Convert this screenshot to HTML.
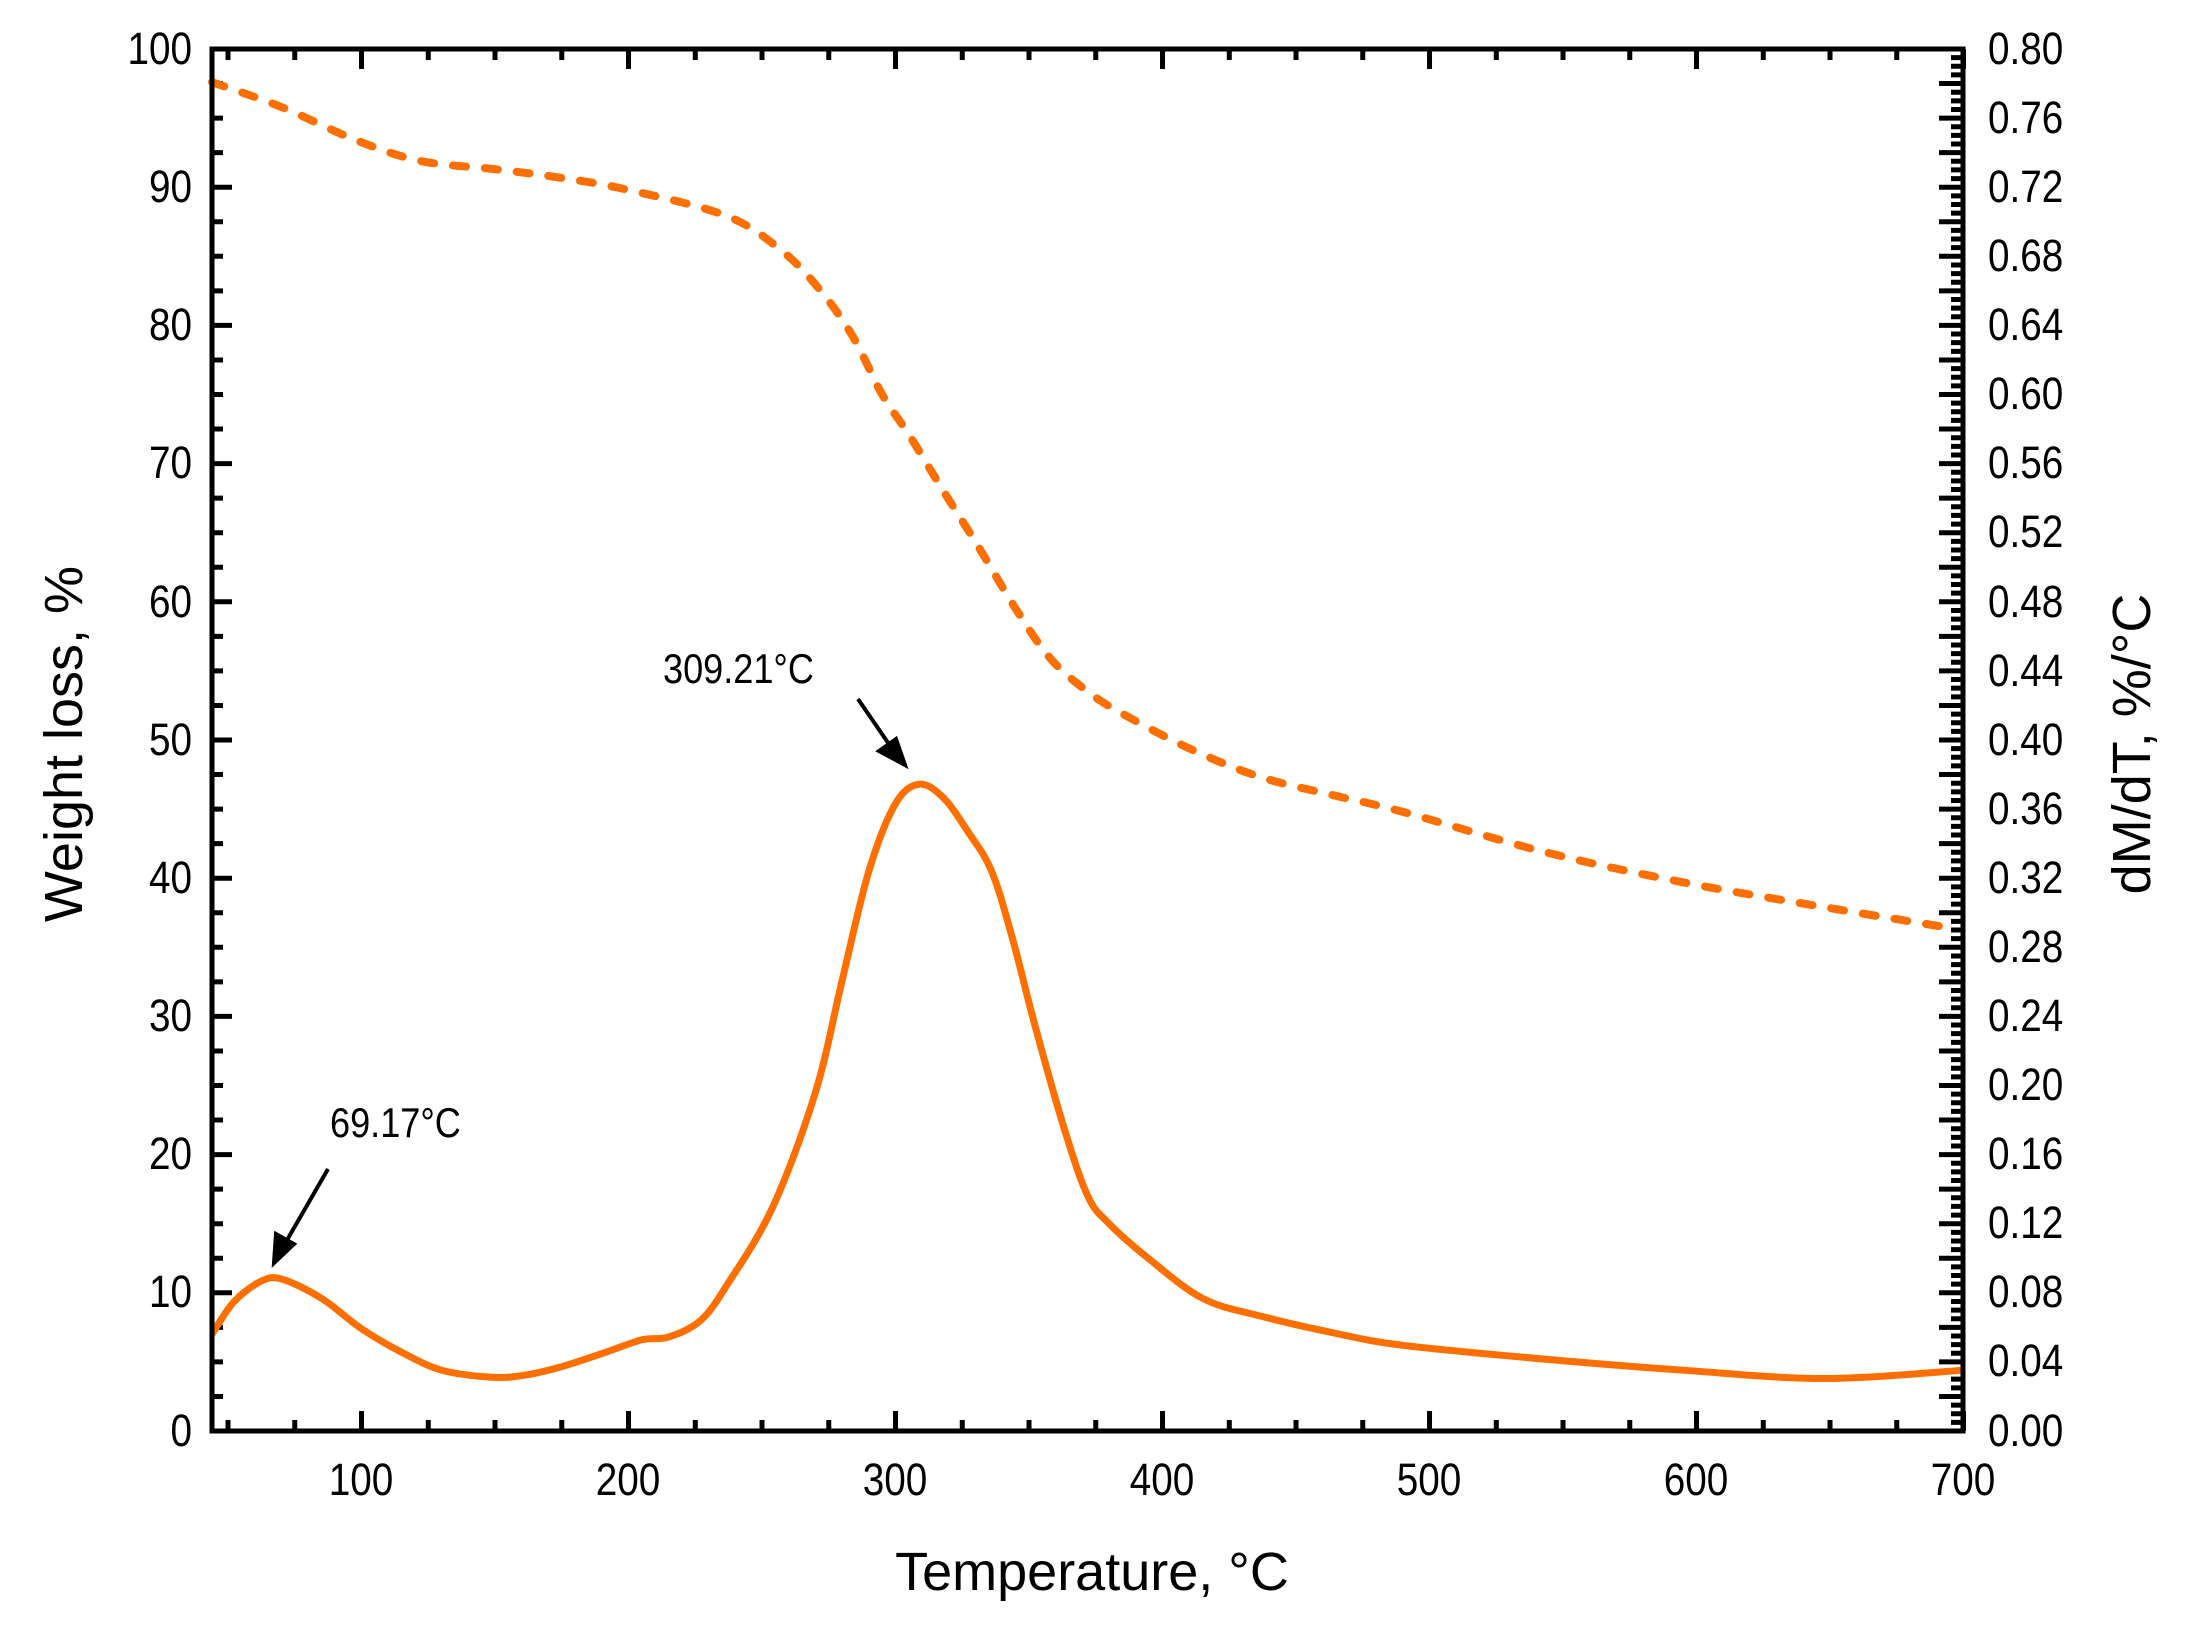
<!DOCTYPE html>
<html><head><meta charset="utf-8"><style>
html,body{margin:0;padding:0;background:#fff}
svg text{font-family:"Liberation Sans",Arial,sans-serif;fill:#000}
.l text{transform-box:fill-box;transform-origin:right center;transform:scaleX(.86)}
.r text{transform-box:fill-box;transform-origin:left center;transform:scaleX(.86)}
.b text{transform-box:fill-box;transform-origin:center center;transform:scaleX(.86)}
</style></head><body>
<svg id="s" width="2190" height="1622" viewBox="0 0 2190 1622" xmlns="http://www.w3.org/2000/svg">
<rect width="2190" height="1622" fill="#fff"/>
<g id="ticks" stroke="#000" stroke-width="5" fill="none"></g>
<path id="tg" fill="none" stroke="#ff6f00" stroke-width="8" stroke-linecap="round" stroke-dasharray="13 19"/>
<path id="dtg" fill="none" stroke="#ff6f00" stroke-width="7" stroke-linejoin="round"/>
<rect x="212" y="49" width="1751" height="1382" fill="none" stroke="#000" stroke-width="5"/>
<g class="l" font-size="45" text-anchor="end">
<text x="192" y="64">100</text><text x="192" y="202">90</text><text x="192" y="340">80</text>
<text x="192" y="478">70</text><text x="192" y="617">60</text><text x="192" y="755">50</text>
<text x="192" y="893">40</text><text x="192" y="1031">30</text><text x="192" y="1169">20</text>
<text x="192" y="1307">10</text><text x="192" y="1446">0</text>
</g>
<g class="r" font-size="45" text-anchor="start">
<text x="1988" y="64">0.80</text><text x="1988" y="133">0.76</text><text x="1988" y="202">0.72</text>
<text x="1988" y="271">0.68</text><text x="1988" y="340">0.64</text><text x="1988" y="409">0.60</text>
<text x="1988" y="478">0.56</text><text x="1988" y="547">0.52</text><text x="1988" y="617">0.48</text>
<text x="1988" y="686">0.44</text><text x="1988" y="755">0.40</text><text x="1988" y="824">0.36</text>
<text x="1988" y="893">0.32</text><text x="1988" y="962">0.28</text><text x="1988" y="1031">0.24</text>
<text x="1988" y="1100">0.20</text><text x="1988" y="1169">0.16</text><text x="1988" y="1238">0.12</text>
<text x="1988" y="1307">0.08</text><text x="1988" y="1376">0.04</text><text x="1988" y="1446">0.00</text>
</g>
<g class="b" font-size="45" text-anchor="middle">
<text x="361" y="1495">100</text><text x="628" y="1495">200</text><text x="895" y="1495">300</text>
<text x="1162" y="1495">400</text><text x="1429" y="1495">500</text><text x="1696" y="1495">600</text>
<text x="1963" y="1495">700</text>
</g>
<text x="1092" y="1590" font-size="54" text-anchor="middle">Temperature, °C</text>
<text transform="translate(82,744) rotate(-90)" font-size="54" text-anchor="middle">Weight loss, %</text>
<text transform="translate(2150,744) rotate(-90)" font-size="54" text-anchor="middle">dM/dT, %/°C</text>
<g class="r" font-size="42"><text x="330" y="1137">69.17°C</text>
<text x="663" y="683">309.21°C</text></g>
<g stroke="#000" stroke-width="4" fill="#000">
<line x1="328" y1="1169" x2="283" y2="1247"/>
<polygon points="274,1263 276,1234 294,1244"/>
<line x1="858" y1="699" x2="893" y2="750"/>
<polygon points="905,765 879,751 896,739"/>
</g>
</svg>
<script>
var X=function(t){return 212+(t-44)*2.67}, Y=function(v){return 1431-v*13.82};
function cr(pts){var p=pts.map(function(a){return [X(a[0]),Y(a[1])]});var d="M"+p[0][0]+","+p[0][1];
for(var i=0;i<p.length-1;i++){var p0=p[i-1]||p[i],p1=p[i],p2=p[i+1],p3=p[i+2]||p2;
d+=" C"+(p1[0]+(p2[0]-p0[0])/6)+","+(p1[1]+(p2[1]-p0[1])/6)+" "+(p2[0]-(p3[0]-p1[0])/6)+","+(p2[1]-(p3[1]-p1[1])/6)+" "+p2[0]+","+p2[1];}return d;}
var tg=[[44,97.6],[70,95.8],[98,93.4],[122,91.9],[150,91.3],[174,90.7],[200,89.8],[237,87.9],[258,85.3],[272,82.5],[284,79.2],[295,75],[305,72.1],[318,68],[331,64],[345,59.5],[358,55.9],[372,53.5],[385,51.9],[411,49.3],[437,47.3],[464,46],[490,44.8],[543,41.9],[595,39.7],[648,37.9],[695,36.4]];
var dt=[[44,7],[52,9.3],[62,10.8],[70,11],[85,9.6],[100,7.4],[115,5.7],[130,4.4],[148,3.9],[160,4],[174,4.6],[190,5.6],[205,6.6],[215,6.8],[227,8],[237,10.6],[254,16.2],[270,24.5],[280,32.6],[290,40.5],[300,45.4],[309,46.8],[318,45.8],[327,43.4],[336,40.5],[344,35.5],[352,29.5],[363,22],[372,17],[380,15],[394,12.6],[415,9.6],[437,8.3],[464,7.1],[490,6.2],[543,5.2],[595,4.4],[648,3.8],[700,4.4]];
document.getElementById("tg").setAttribute("d",cr(tg));
document.getElementById("dtg").setAttribute("d",cr(dt));
var g="";
for(var v=0;v<=100;v+=2.5){var y=Y(v),L=(v%10==0)?20:11;g+="M212,"+y+"h"+L;}
for(var r=0;r<=0.8001;r+=0.005){var y=1431-r*1727.5,k=Math.round(r*1000);var L=(k%20==0)?24:12;g+="M1963,"+y+"h-"+L;}
for(var t=50;t<=700;t+=25){var x=X(t),L=(t%100==0)?20:11;g+="M"+x+",1431v-"+L+"M"+x+",49v"+L;}
var p=document.createElementNS("http://www.w3.org/2000/svg","path");p.setAttribute("d",g);document.getElementById("ticks").appendChild(p);
</script>
</body></html>
